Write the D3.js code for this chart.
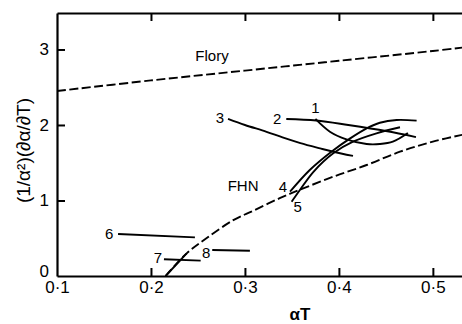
<!DOCTYPE html>
<html>
<head>
<meta charset="utf-8">
<script src="https://cdn.jsdelivr.net/npm/d3@7"></script>
<style>
  html, body { margin: 0; padding: 0; background: #fff; }
  svg { display: block; font-family: "Liberation Sans", Arial, sans-serif; }
</style>
</head>
<body>
<svg id="chart" width="462" height="324"></svg>
<script>
// Reference curves (dashed)
const flory = [[0.1, 2.45], [0.2, 2.59], [0.3, 2.72], [0.4, 2.85], [0.5, 2.98], [0.535, 3.03]];
const fhn = [[0.2156, 0], [0.238, 0.30], [0.259, 0.50], [0.2876, 0.74], [0.309, 0.865], [0.337, 1.03],
             [0.362, 1.16], [0.394, 1.315], [0.4295, 1.47], [0.465, 1.646], [0.50, 1.78], [0.535, 1.88]];

// Measured series 1–8 (solid)
const series1 = [[0.375, 2.08], [0.3904, 1.911], [0.408, 1.81], [0.4295, 1.748], [0.4436, 1.748], [0.4574, 1.779], [0.4734, 1.894]];
const series2 = [[0.344, 2.08], [0.376, 2.06], [0.41, 2.0], [0.45, 1.92], [0.482, 1.84]];
const series3 = [[0.282, 2.08], [0.30, 2.0], [0.323, 1.91], [0.34, 1.835], [0.359, 1.76], [0.38, 1.69], [0.394, 1.646], [0.415, 1.59]];
const series4 = [[0.348, 1.117], [0.369, 1.404], [0.392, 1.646], [0.412, 1.823], [0.4295, 1.956], [0.4436, 2.03], [0.4614, 2.066], [0.4827, 2.057]];
const series5 = [[0.3497, 0.984], [0.3585, 1.139], [0.3727, 1.377], [0.394, 1.625], [0.415, 1.779], [0.44, 1.89], [0.465, 1.97]];
const series6 = [[0.165, 0.556], [0.2468, 0.512]];
const series7 = [[0.2138, 0.221], [0.2529, 0.203]];
const series8 = [[0.2652, 0.344], [0.3053, 0.335]];

const seriesNames = ["1", "2", "3", "4", "5", "6", "7", "8"];
const seriesData = [series1, series2, series3, series4, series5, series6, series7, series8];

// Axis ticks
const xTicks = [0.1, 0.2, 0.3, 0.4, 0.5];
const yTicks = [0, 1, 2, 3];

const svg = d3.select("#chart");
const m = { left: 57, right: 462, top: 13, bottom: 276 };

const x = d3.scaleLinear().domain([0.1, 0.531]).range([m.left, m.right]);
const y = d3.scaleLinear().domain([0, 3.483]).range([m.bottom, m.top]);

const fmtX = d => d3.format(".1f")(d).replace(".", "\u00b7");

// clip to plotting area
svg.append("clipPath").attr("id", "plot")
  .append("rect").attr("x", m.left).attr("y", m.top).attr("width", m.right - m.left).attr("height", m.bottom - m.top);

// bottom axis
const gx = svg.append("g").attr("transform", `translate(0,${m.bottom})`)
  .call(d3.axisBottom(x).tickValues(xTicks).tickSizeInner(-8).tickSizeOuter(0).tickPadding(5).tickFormat(fmtX));
// top axis (ticks only)
const gt = svg.append("g").attr("transform", `translate(0,${m.top})`)
  .call(d3.axisTop(x).tickValues(xTicks.slice(1)).tickSizeInner(-8).tickSizeOuter(0).tickFormat(""));
// left axis
const gy = svg.append("g").attr("transform", `translate(${m.left},0)`)
  .call(d3.axisLeft(y).tickValues(yTicks).tickSizeInner(-8).tickSizeOuter(0).tickPadding(8).tickFormat(d3.format("d")));

[gx, gt, gy].forEach(g => {
  g.selectAll("path.domain").attr("stroke", "#000").attr("stroke-width", 2.2);
  g.selectAll(".tick line").attr("stroke", "#000").attr("stroke-width", 2);
  g.selectAll(".tick text").attr("fill", "#000").attr("font-size", 17);
});
gy.selectAll(".tick").filter(d => d === 0).select("line").remove();
gy.selectAll(".tick").filter(d => d === 0).select("text").attr("dy", "0.02em");
gx.selectAll(".tick").filter(d => d === 0.1).select("line").remove();

// axis titles
svg.append("text")
  .attr("x", x(0.3) + 55).attr("y", 320)
  .attr("text-anchor", "middle").attr("font-size", 17).attr("font-weight", "bold")
  .text("\u03b1T");

svg.append("text")
  .attr("transform", `translate(30,${(m.top + m.bottom) / 2 + 6}) rotate(-90)`)
  .attr("text-anchor", "middle").attr("font-size", 19)
  .text("(1/\u03b1\u00b2)(\u2202\u03b1/\u2202T)");

const plot = svg.append("g").attr("clip-path", "url(#plot)");

const line = d3.line().x(d => x(d[0])).y(d => y(d[1])).curve(d3.curveCatmullRom);

// dashed theory curves
plot.append("path").datum(flory).attr("d", line)
  .attr("fill", "none").attr("stroke", "#000").attr("stroke-width", 1.9).attr("stroke-dasharray", "9,3.5");
plot.append("path").datum(fhn).attr("d", line)
  .attr("fill", "none").attr("stroke", "#000").attr("stroke-width", 1.9).attr("stroke-dasharray", "9,3.5");
// FHN is drawn solid near the axis
plot.append("path").datum(fhn.slice(0, 2)).attr("d", line)
  .attr("fill", "none").attr("stroke", "#000").attr("stroke-width", 1.9);

// measured series
plot.selectAll("path.series").data(seriesData).join("path")
  .attr("class", "series")
  .attr("d", line)
  .attr("fill", "none").attr("stroke", "#000").attr("stroke-width", 1.9);

// series labels, placed next to the start of each line
const labelOffset = {
  "1": [0, -11], "2": [-9, 0], "3": [-8, -1], "4": [-7, -5],
  "5": [6, 5], "6": [-9, 0], "7": [-6, -2], "8": [-6, 3]
};
svg.selectAll("text.slabel").data(seriesNames).join("text")
  .attr("class", "slabel")
  .attr("x", (n, i) => x(seriesData[i][0][0]) + labelOffset[n][0])
  .attr("y", (n, i) => y(seriesData[i][0][1]) + labelOffset[n][1])
  .attr("text-anchor", "middle").attr("dy", "0.36em")
  .attr("font-size", 15)
  .text(n => n);

// curve names
svg.append("text").attr("x", x(0.265)).attr("y", y(flory[2][1]) - 10)
  .attr("text-anchor", "middle").attr("font-size", 15).text("Flory");
svg.append("text").attr("x", x(0.298)).attr("y", y(fhn[5][1]) - 7)
  .attr("text-anchor", "middle").attr("font-size", 15).text("FHN");
</script>
</body>
</html>
